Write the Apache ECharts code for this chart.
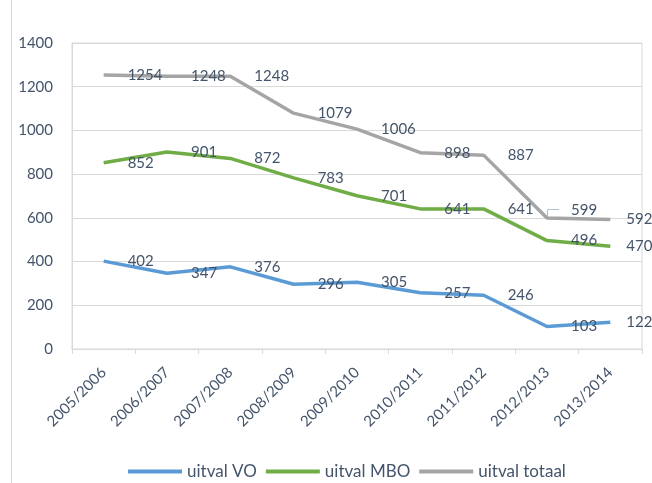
<!DOCTYPE html>
<html>
<head>
<meta charset="utf-8">
<script src="https://cdn.jsdelivr.net/npm/echarts@6/dist/echarts.min.js"></script>
<style>html,body{margin:0;padding:0;background:#fff;}#c{width:652px;height:483px;}</style>
</head>
<body>
<div id="c"></div>
<script>
var categories = ['2005/2006','2006/2007','2007/2008','2008/2009','2009/2010','2010/2011','2011/2012','2012/2013','2013/2014'];
var uitvalVO = [402,347,376,296,305,257,246,103,122];
var uitvalMBO = [852,901,872,783,701,641,641,496,470];
var uitvalTotaal = [1254,1248,1248,1079,1006,898,887,599,592];
var yTicks = [0,200,400,600,800,1000,1200,1400];

var txt = '#44546a';
var font = 'Lato';
var grey = '#d9d9d9';

function items(arr, extra) {
  return arr.map(function (v, i) {
    var o = { value: v };
    if (i === arr.length - 1) o.label = { offset: [-8, 0] };
    if (extra && extra[i]) o.label = extra[i];
    return o;
  });
}

function series(name, data, extra) {
  return {
    name: name,
    type: 'line',
    data: items(data, extra),
    symbol: 'circle',
    symbolSize: 0,
    showSymbol: true,
    lineStyle: { width: 3.5 },
    label: {
      show: true, position: 'right', distance: 24,
      color: txt, fontFamily: font, fontSize: 15
    },
    emphasis: { disabled: true },
    animation: false
  };
}

var chart = echarts.init(document.getElementById('c'));
chart.setOption({
  animation: false,
  color: ['#5b9bd5', '#70ad47', '#a5a5a5'],
  graphic: [{
    type: 'line', shape: { x1: 11.5, y1: 0, x2: 11.5, y2: 483 },
    style: { stroke: grey, lineWidth: 1 }
  }, {
    type: 'polyline', shape: { points: [[547.5, 217], [547.5, 209.5], [559, 209.5]] },
    style: { stroke: '#b4c0cf', lineWidth: 1, fill: null }
  }],
  grid: { left: 72, right: 10, top: 43, bottom: 134, show: true, borderColor: grey, borderWidth: 1 },
  legend: {
    left: 123, top: 458,
    icon: 'rect', itemWidth: 54, itemHeight: 4, itemGap: 9,
    textStyle: { color: txt, fontFamily: font, fontSize: 17, padding: [0, 0, 0, 0] },
    data: ['uitval VO', 'uitval MBO', 'uitval totaal']
  },
  xAxis: {
    type: 'category', data: categories, boundaryGap: true,
    axisLine: { show: true, lineStyle: { color: grey } },
    axisTick: { show: true, interval: 0, length: 5, lineStyle: { color: grey } },
    axisLabel: { interval: 0, rotate: 45, margin: 21, color: txt, fontFamily: font, fontSize: 15 }
  },
  yAxis: {
    type: 'value', min: yTicks[0], max: yTicks[yTicks.length - 1], interval: yTicks[1] - yTicks[0],
    axisLine: { show: true, lineStyle: { color: grey } },
    axisTick: { show: false },
    splitLine: { lineStyle: { color: grey } },
    axisLabel: { margin: 19, color: txt, fontFamily: font, fontSize: 15, formatter: function (v) { return String(v); } }
  },
  series: [
    series('uitval VO', uitvalVO),
    series('uitval MBO', uitvalMBO),
    series('uitval totaal', uitvalTotaal, { 7: { offset: [0, -8] } })
  ]
});
</script>
</body>
</html>
